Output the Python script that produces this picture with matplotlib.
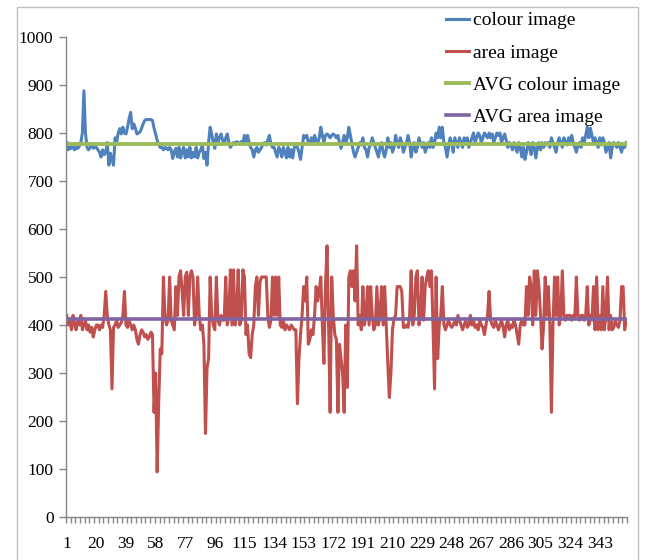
import numpy as np
import matplotlib
matplotlib.use("Agg")
import matplotlib.pyplot as plt
from matplotlib.patches import Rectangle

# --- DATA ---
colour_image = [
    780, 765, 770, 768, 772, 765, 770, 768, 772, 780, 800, 888, 800, 770, 765, 770, 775, 768, 772, 770,
    765, 760, 750, 765, 755, 760, 780, 733, 758, 745, 733, 790, 780, 800, 809, 798, 812, 800, 798, 812,
    830, 843, 809, 819, 810, 798, 800, 802, 810, 819, 826, 828, 828, 828, 828, 826, 810, 798, 785, 775,
    770, 770, 765, 770, 768, 765, 770, 765, 747, 760, 768, 750, 770, 748, 760, 770, 748, 765, 750, 770,
    748, 760, 750, 770, 748, 760, 765, 775, 747, 760, 733, 780, 812, 798, 780, 768, 798, 780, 790, 798,
    785, 778, 790, 798, 780, 770, 775, 780, 778, 782, 780, 778, 782, 780, 795, 778, 795, 780, 770, 765,
    750, 765, 770, 760, 765, 770, 778, 780, 775, 785, 795, 778, 770, 770, 760, 750, 770, 765, 750, 770,
    760, 748, 770, 750, 765, 748, 770, 778, 770, 760, 745, 770, 795, 790, 795, 780, 778, 790, 780, 795,
    785, 778, 790, 812, 795, 780, 795, 798, 795, 790, 795, 798, 795, 790, 795, 780, 768, 780, 795, 780,
    790, 812, 795, 778, 760, 750, 760, 770, 780, 775, 790, 770, 765, 750, 770, 775, 790, 780, 770, 760,
    750, 770, 780, 760, 750, 765, 790, 770, 780, 760, 770, 795, 780, 770, 790, 780, 760, 770, 780, 795,
    780, 750, 770, 780, 760, 770, 790, 780, 770, 780, 760, 770, 780, 770, 790, 770, 780, 800, 790, 812,
    790, 812, 780, 770, 750, 770, 790, 780, 760, 790, 780, 770, 790, 780, 770, 790, 780, 790, 770, 780,
    790, 800, 780, 790, 800, 795, 780, 790, 800, 795, 790, 800, 790, 798, 780, 790, 800, 795, 800, 780,
    790, 798, 785, 770, 780, 775, 765, 780, 770, 760, 780, 770, 750, 770, 745, 760, 780, 770, 755, 780,
    770, 748, 770, 780, 765, 780, 770, 780, 775, 780, 770, 790, 780, 770, 760, 780, 790, 780, 770, 790,
    780, 775, 790, 780, 795, 780, 770, 760, 775, 780, 770, 790, 780, 795, 812, 790, 810, 795, 780, 790,
    780, 770, 790, 775, 790, 780, 760, 770, 780, 748, 770, 780, 775, 770, 780, 770, 760, 775, 770, 780,
]

area_image = [
    420, 400, 410, 390, 420, 400, 390, 410, 400, 420, 390, 400, 410, 390, 400, 385, 395, 375, 390, 400,
    400, 390, 400, 395, 420, 470, 420, 400, 390, 267, 395, 400, 410, 395, 400, 405, 420, 470, 400, 395,
    410, 400, 390, 400, 390, 370, 360, 380, 390, 385, 375, 380, 370, 375, 385, 380, 218, 300, 94, 240,
    350, 340, 500, 420, 400, 410, 500, 410, 400, 390, 480, 420, 500, 513, 470, 420, 500, 510, 420, 500,
    513, 500, 400, 420, 500, 420, 390, 400, 360, 174, 311, 330, 500, 420, 400, 390, 500, 410, 400, 420,
    410, 410, 500, 400, 420, 515, 400, 515, 400, 420, 515, 400, 410, 515, 500, 380, 400, 340, 332, 380,
    400, 480, 500, 420, 490, 500, 500, 500, 500, 420, 395, 410, 500, 420, 500, 420, 500, 400, 395, 410,
    390, 400, 395, 390, 400, 395, 390, 390, 236, 330, 380, 420, 480, 450, 500, 360, 370, 390, 380, 420,
    480, 450, 470, 500, 400, 320, 480, 565, 400, 218, 500, 420, 380, 370, 218, 360, 330, 300, 218, 400,
    270, 500, 513, 480, 513, 450, 565, 400, 420, 390, 480, 400, 420, 480, 400, 480, 420, 390, 400, 480,
    400, 420, 480, 400, 480, 400, 320, 249, 300, 390, 414, 420, 480, 480, 480, 470, 395, 395, 400, 395,
    420, 513, 400, 420, 500, 513, 400, 420, 500, 410, 480, 500, 513, 480, 513, 400, 267, 500, 330, 400,
    420, 480, 400, 390, 400, 410, 400, 395, 400, 410, 400, 420, 410, 400, 390, 400, 410, 395, 400, 420,
    400, 410, 395, 400, 390, 410, 400, 395, 380, 400, 420, 470, 410, 400, 395, 410, 400, 390, 400, 410,
    395, 375, 400, 410, 390, 400, 395, 410, 400, 380, 360, 400, 410, 400, 400, 480, 420, 500, 480, 400,
    513, 420, 513, 480, 420, 350, 400, 500, 420, 480, 400, 218, 400, 500, 420, 500, 400, 420, 513, 420,
    410, 420, 420, 420, 410, 420, 415, 500, 420, 410, 420, 420, 410, 420, 480, 400, 420, 410, 480, 390,
    500, 390, 420, 390, 480, 390, 420, 500, 390, 420, 390, 395, 410, 400, 395, 410, 480, 480, 390, 410,
]

avg_colour = 778
avg_area = 413

series_labels = ["colour image", "area image", "AVG colour image", "AVG area image"]
y_ticks = [0, 100, 200, 300, 400, 500, 600, 700, 800, 900, 1000]
x_label_step = 19

plt.rcParams['font.family'] = ['Liberation Serif', 'DejaVu Serif']

n = len(colour_image)
x = np.arange(1, n + 1)

fig = plt.figure(figsize=(6.46, 5.6), dpi=100)
ax = fig.add_axes([66 / 646, 1 - 517 / 560, (627 - 66) / 646, (517 - 37) / 560])

ax.plot(x, colour_image, color="#4F81BD", lw=2.2, label=series_labels[0])
ax.plot(x, area_image, color="#C0504D", lw=2.2, label=series_labels[1])
ax.plot(x, [avg_colour] * n, color="#9BBB59", lw=2.8, label=series_labels[2])
ax.plot(x, [avg_area] * n, color="#8064A2", lw=2.6, label=series_labels[3])

ax.set_xlim(0.5, n + 0.5)
ax.set_ylim(0, 1000)
ax.set_yticks(y_ticks)
ax.set_yticklabels([str(v) for v in y_ticks])

label_pos = list(range(1, n + 1, x_label_step))
ax.set_xticks(label_pos)
ax.set_xticklabels([str(v) for v in label_pos])
ax.set_xticks(np.arange(0.5, n + 1, 3), minor=True)

for s in ["top", "right"]:
    ax.spines[s].set_visible(False)
for s in ["left", "bottom"]:
    ax.spines[s].set_color("#868686")
    ax.spines[s].set_linewidth(1.0)

ax.tick_params(axis="y", direction="out", length=5, width=1, color="#868686",
               labelsize=12.5, pad=4)
ax.tick_params(axis="x", which="major", length=0, labelsize=12.5, pad=14)
ax.tick_params(axis="x", which="minor", direction="out", length=4, width=1, color="#868686")

fig.legend(loc="upper left", bbox_to_anchor=(436 / 646, 1 - 2 / 560),
           frameon=False, fontsize=14, handlelength=1.2, handletextpad=0.2,
           labelspacing=0.75, borderpad=0.0)

# light outer frame around the chart area
fig.patches.append(Rectangle((17 / 646, -0.02), (638 - 17) / 646, 1 - 7 / 560 + 0.02,
                             transform=fig.transFigure, fill=False,
                             edgecolor="#BFBFBF", lw=1.0))

fig.savefig("out.png", dpi=100)
